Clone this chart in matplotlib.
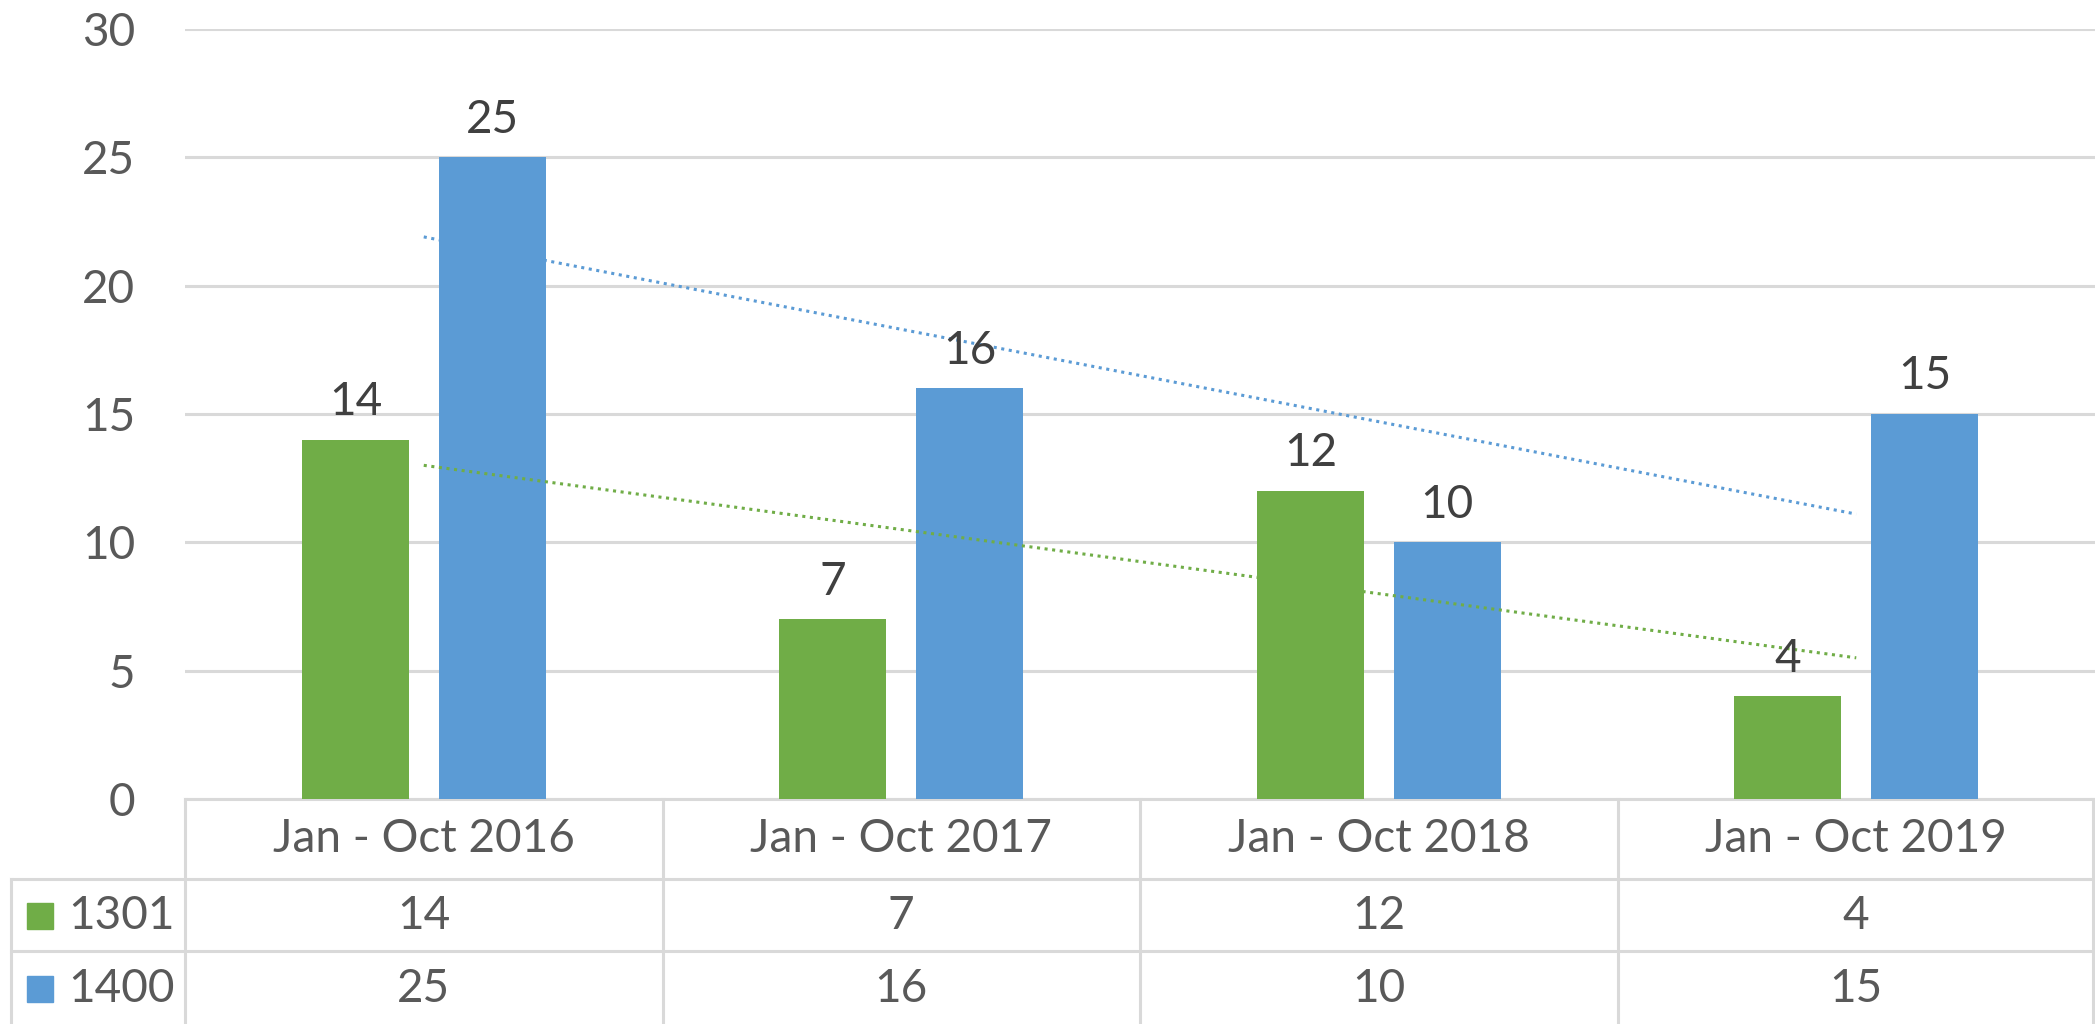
import matplotlib
matplotlib.use('Agg')
import matplotlib.pyplot as plt
import numpy as np
from matplotlib.patches import Rectangle

categories = ['Jan - Oct 2016', 'Jan - Oct 2017', 'Jan - Oct 2018', 'Jan - Oct 2019']
series_names = ['1301', '1400']
vals_1301 = [14, 7, 12, 4]
vals_1400 = [25, 16, 10, 15]
colors = ['#70AD47', '#5B9BD5']

plt.rcParams['font.family'] = ['Lato', 'DejaVu Sans']
txt = '#595959'
grid = '#D9D9D9'
fs = 33

W, H = 2095, 1024
fig = plt.figure(figsize=(W / 100, H / 100), dpi=100)
ax = fig.add_axes([185 / W, 1 - 799 / H, 1 - 185 / W, (799 - 29) / H])

x = np.arange(len(categories))
bw = 0.224
off = 0.143
for i, (vals, c) in enumerate(zip([vals_1301, vals_1400], colors)):
    xs = x + (i * 2 - 1) * off
    ax.bar(xs, vals, width=bw, color=c, zorder=3)
    for xi, v in zip(xs, vals):
        ax.annotate(str(v), (xi, v), xytext=(0, 12), textcoords='offset points',
                    ha='center', va='bottom', fontsize=fs, color='#404040', zorder=5)
    # linear trendline
    k, b = np.polyfit(x, vals, 1)
    ax.plot(x, k * x + b, linestyle=(0, (1, 1.5)), color=c, lw=2.2, zorder=4)

ax.set_xlim(-0.5, 3.5)
ax.set_ylim(0, 30)
ax.set_yticks(range(0, 31, 5))
ax.tick_params(axis='y', length=0, pad=36, labelsize=fs, labelcolor=txt)
ax.set_xticks([])
ax.grid(axis='y', color=grid, lw=2.2, zorder=0)
for s in ['top', 'right', 'left']:
    ax.spines[s].set_visible(False)
ax.spines['bottom'].set_color(grid)
ax.spines['bottom'].set_linewidth(2.2)

# data table below the plot, drawn in figure pixels
def fx(px):
    return px / W

def fy(py):
    return 1 - py / H

lc = dict(color=grid, lw=2.2, transform=fig.transFigure, clip_on=False)
fig.add_artist(plt.Line2D([fx(185), fx(185)], [fy(799), fy(1024)], **lc))
fig.add_artist(plt.Line2D([fx(11), fx(11)], [fy(879), fy(1024)], **lc))
fig.add_artist(plt.Line2D([fx(11), 1], [fy(879), fy(879)], **lc))
fig.add_artist(plt.Line2D([fx(11), 1], [fy(951), fy(951)], **lc))
fig.add_artist(plt.Line2D([fx(2093), fx(2093)], [fy(799), fy(1024)], **lc))

colw = (W - 185) / len(categories)
for j, cat in enumerate(categories):
    cx = 185 + colw * (j + 0.5)
    if j > 0:
        bx = 185 + colw * j
        fig.add_artist(plt.Line2D([fx(bx), fx(bx)], [fy(799), fy(1024)], **lc))
    fig.text(fx(cx), fy(839), cat, ha='center', va='center', fontsize=fs, color=txt)
    fig.text(fx(cx), fy(916), str(vals_1301[j]), ha='center', va='center', fontsize=fs, color=txt)
    fig.text(fx(cx), fy(989), str(vals_1400[j]), ha='center', va='center', fontsize=fs, color=txt)

for name, c, ry in zip(series_names, colors, [916, 989]):
    fig.add_artist(Rectangle((fx(27), fy(ry + 13)), 26 / W, 26 / H, color=c,
                             transform=fig.transFigure))
    fig.text(fx(68), fy(ry), name, ha='left', va='center', fontsize=fs, color=txt)

fig.savefig('out.png', dpi=100)
